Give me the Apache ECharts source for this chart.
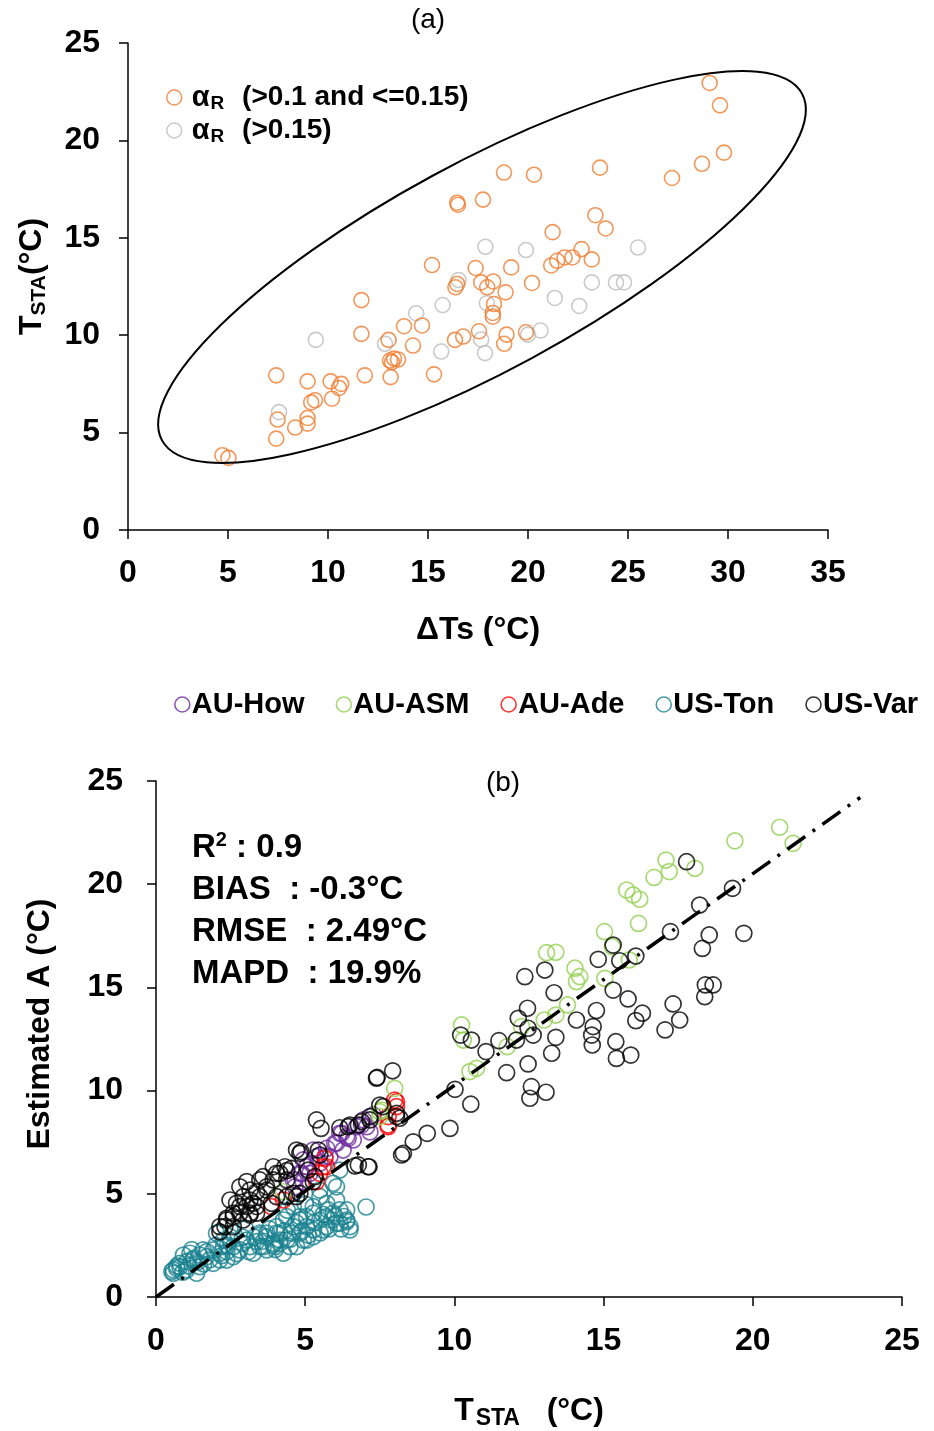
<!DOCTYPE html>
<html>
<head>
<meta charset="utf-8">
<script src="https://cdn.jsdelivr.net/npm/echarts@6/dist/echarts.min.js"></script>
<style>html,body{margin:0;padding:0;background:#fff}#c{width:934px;height:1431px}</style>
</head>
<body>
<div id="c"></div>
<script>
// ---------- Panel (a) data: [ΔTs, TSTA] ----------
const aMidAlbedo = [
  [29.08,22.95],[29.6,21.8],[29.8,19.37],[28.7,18.8],[27.2,18.07],[23.6,18.6],[18.8,18.35],[20.3,18.24],
  [16.46,16.8],[16.5,16.7],[17.75,16.96],[23.37,16.16],[23.88,15.48],[21.23,15.29],
  [15.2,13.6],[17.38,13.45],[19.16,13.48],[21.16,13.58],[21.46,13.82],[21.83,13.99],[22.22,13.99],[22.68,14.42],[23.19,13.89],
  [16.37,12.46],[16.46,12.63],[17.66,12.71],[18.26,12.76],[17.96,12.46],[18.88,12.2],[20.2,12.68],
  [11.67,11.8],[18.3,11.6],[18.24,11.14],[18.24,10.95],
  [13.8,10.46],[14.7,10.5],[11.67,10.07],[13.03,9.76],[14.25,9.47],
  [13.1,8.7],[13.3,8.8],[13.5,8.75],[13.2,8.62],
  [16.35,9.76],[16.76,9.93],[17.55,10.2],[18.93,10.03],[18.81,9.56],[19.9,10.15],
  [7.41,7.94],[8.98,7.63],[10.13,7.63],[10.66,7.5],[10.55,7.29],[11.84,7.94],[13.13,7.85],[15.3,7.99],
  [9.35,6.66],[9.16,6.55],[10.2,6.74],[8.98,5.75],[8.98,5.46],[7.48,5.67],[8.36,5.26],[7.41,4.69],
  [4.72,3.84],[5.02,3.7]
];
const aHighAlbedo = [
  [17.87,14.54],[19.9,14.37],[25.5,14.5],[16.53,12.83],[23.19,12.71],[24.4,12.71],[24.8,12.71],
  [15.73,11.55],[14.41,11.13],[17.94,11.64],[21.34,11.91],[22.56,11.5],[20.0,10.03],[20.63,10.24],
  [9.39,9.76],[12.85,9.56],[15.66,9.16],[17.66,9.78],[17.85,9.08],[7.55,6.05]
];
// ellipse annotation: major-axis end points and one minor-axis end point (data units)
const ellipseMajorEnds = [[1.7,4.6],[33.7,22.4]];
const ellipseMinorEnd = [20.2,8.83];

// ---------- Panel (b) data: [TSTA, Estimated A] ----------
const auHow = [
  [4.6,5.67],[4.66,5.34],[4.66,5.67],[4.82,5.99],[4.88,5.99],[4.93,5.59],[4.93,6.64],[5.05,6.31],[5.16,5.99],[5.22,6.48],
  [5.27,7.12],[5.38,6.8],[5.49,6.48],[5.66,6.8],[5.72,7.2],[5.83,6.8],[5.99,7.45],[6.05,7.45],[6.16,7.93],[6.22,7.93],
  [6.27,7.12],[6.39,7.77],[6.44,7.69],[6.61,7.61],[6.72,8.25],[6.89,8.33],[6.95,8.58],[7.06,8.25],[7.17,8.0],[7.28,8.82]
];
const auAsm = [
  [4.27,5.1],[7.5,8.74],[7.5,8.98],[7.56,9.06],[8.0,10.11],[10.24,13.18],[10.3,12.45],[10.52,10.92],[10.74,11.08],
  [11.77,12.13],[12.25,13.1],[13.01,13.42],[13.09,16.68],[13.4,16.7],[13.4,13.66],[13.79,14.15],[14.04,15.93],
  [14.09,15.28],[14.2,15.52],[15.03,17.7],[15.04,15.44],[15.29,16.97],[15.77,19.72],[15.86,16.33],[15.99,19.48],
  [16.17,18.1],[16.21,19.27],[16.69,20.33],[17.09,21.17],[17.2,20.61],[18.06,20.77],[19.4,22.1],[20.9,22.76],[21.35,21.98]
];
const auAde = [
  [3.87,4.38],[4.27,4.7],[5.38,5.59],[5.49,5.99],[5.6,6.31],[5.66,6.72],[5.72,6.31],
  [7.78,8.25],[7.78,8.33],[7.78,8.74],[8.0,9.54],[8.06,9.22],[8.06,9.46]
];
const usTon = [
  [0.53,1.23],[0.58,1.31],[0.58,1.15],[0.69,1.39],[0.8,1.47],[0.8,1.63],[0.92,2.03],[1.03,1.71],[1.03,1.31],[1.14,2.12],
  [1.25,1.87],[1.25,1.79],[1.36,1.15],[1.47,2.03],[1.47,1.47],[1.58,2.28],[1.7,2.2],[1.7,1.95],[1.92,2.28],[1.92,1.63],
  [2.03,3.09],[2.14,1.79],[2.14,2.12],[2.26,2.76],[2.26,2.44],[2.37,2.2],[2.37,1.79],[2.48,2.92],[2.48,2.76],[2.59,2.44],
  [2.59,1.95],[2.81,2.28],[2.92,2.6],[3.04,2.76],[3.15,2.44],[3.26,2.12],[3.37,2.68],[3.48,3.0],[3.48,2.44],[3.48,3.09],
  [3.59,2.44],[3.71,2.92],[3.71,2.28],[3.71,3.09],[3.93,2.52],[3.93,2.6],[3.99,2.44],[4.04,3.09],[4.04,3.41],[4.15,2.6],
  [4.15,3.09],[4.15,2.76],[4.27,3.73],[4.27,2.12],[4.38,2.76],[4.38,3.89],[4.49,2.44],[4.54,3.09],[4.6,3.41],[4.6,4.38],
  [4.71,2.44],[4.82,3.09],[4.82,3.73],[4.82,3.89],[4.93,2.76],[5.05,3.41],[5.05,3.89],[5.05,2.76],[5.27,4.06],[5.27,3.25],
  [5.27,2.92],[5.27,4.38],[5.49,3.73],[5.49,4.86],[5.49,5.18],[5.6,3.25],[5.72,3.41],[5.72,4.54],[5.72,3.89],[5.77,4.22],
  [5.89,3.73],[5.94,4.06],[5.94,5.51],[6.05,3.57],[6.05,4.7],[6.05,5.34],[6.16,4.22],[6.16,3.57],[6.16,6.15],[6.39,3.65],
  [6.39,3.73],[6.39,4.22],[6.5,3.41],[6.5,3.25],[7.04,4.36],
  [0.7,1.5],[0.9,1.2],[1.1,1.5],[1.2,2.3],[1.4,1.7],[1.6,1.6],[1.8,1.8],[2.0,2.5],[2.2,2.0],[2.4,2.5],
  [2.7,2.1],[2.9,2.9],[3.1,2.2],[3.3,2.9],[3.6,2.7],[3.8,3.3],[4.0,2.3],[4.3,3.2],[4.5,2.8],[4.7,3.6],
  [4.9,3.2],[5.1,3.0],[5.3,3.6],[5.5,3.1],[5.6,4.0],[5.8,3.3],[6.0,3.9],[6.2,3.3],[6.3,3.9],[3.0,3.3],
  [2.6,3.1],[4.4,4.2],[5.0,4.5]
];
const usVar = [
  [2.14,3.16],[2.14,3.41],[2.31,3.41],[2.37,3.73],[2.37,3.81],[2.48,4.7],[2.59,3.41],[2.59,3.89],[2.59,4.06],[2.7,4.54],
  [2.81,4.06],[2.81,4.38],[2.81,5.34],[2.92,4.86],[2.92,3.73],[3.04,4.38],[3.04,5.59],[3.15,3.97],[3.15,4.7],[3.15,5.18],
  [3.15,4.06],[3.26,4.54],[3.37,4.06],[3.37,4.38],[3.37,5.1],[3.48,4.86],[3.48,5.67],[3.59,5.83],[3.71,5.18],[3.71,5.34],
  [3.87,4.54],[3.93,5.67],[3.93,6.31],[4.04,4.86],[4.04,5.99],[4.15,5.99],[4.32,6.31],[4.38,4.86],[4.38,5.67],[4.38,6.12],
  [4.54,6.23],[4.6,5.02],[4.71,4.86],[4.71,7.12],[4.82,5.02],[4.82,6.96],[4.86,7.04],[5.1,6.15],[5.27,5.59],[5.33,5.83],
  [5.38,8.58],[5.44,7.12],[5.49,6.88],[5.53,8.17],[6.16,8.2],[6.44,8.25],[6.5,8.33],[6.67,6.35],[6.78,8.33],[6.78,6.4],
  [6.89,8.5],[7.11,6.31],[7.14,6.31],[7.17,8.74],[7.17,8.58],[7.39,10.6],[7.41,10.64],[7.5,9.3],[7.61,9.22],[7.93,10.96],
  [8.06,8.9],[8.06,8.74],[8.17,8.66],[8.23,6.88],[8.29,6.96],[8.62,7.52],[9.09,7.93],[9.85,8.17],
  [10.02,10.06],[10.21,12.69],[10.55,9.34],[10.57,12.45],[11.06,11.89],[11.49,12.42],[11.75,10.87],[12.08,12.45],
  [12.14,13.5],[12.36,15.52],[12.45,13.99],[12.47,13.02],[12.47,11.29],[12.53,9.63],[12.58,10.19],[12.64,12.69],
  [13.03,15.84],[13.07,9.92],[13.26,11.81],[13.34,14.74],[13.4,12.58],[14.09,13.42],[14.6,12.69],[14.62,12.21],
  [14.65,13.1],[14.76,13.88],[14.82,16.36],[15.32,17.05],[15.32,14.87],[15.41,12.37],[15.43,11.56],[15.54,16.29],
  [15.82,14.44],[15.91,11.72],[16.08,16.52],[16.08,13.39],[16.3,13.75],[17.06,12.94],[17.24,17.7],[17.33,14.2],
  [17.55,13.42],[17.78,21.09],[18.22,18.99],[18.31,16.89],[18.39,14.55],[18.41,15.12],[18.54,17.54],[18.67,15.12],
  [19.32,19.8],[19.7,17.62]
];
const fitLine = [[0,0],[23.6,24.2]];

// ---------- labels ----------
const legendA = ['αR (>0.1 and <=0.15)', 'αR (>0.15)'];
const legendB = ['AU-How','AU-ASM','AU-Ade','US-Ton','US-Var'];
const statsLines = ['R2 : 0.9','BIAS  : -0.3°C','RMSE  : 2.49°C','MAPD  : 19.9%'];

const colA = ['#ED7D31', '#BDBDBD'];
const colB = {'AU-How':'#7030A0','AU-ASM':'#92D050','AU-Ade':'#FF0000','US-Ton':'#1A8290','US-Var':'#000000'};

const FONT = '"Liberation Sans", Arial, sans-serif';
const chart = echarts.init(document.getElementById('c'), null, {renderer:'canvas'});

function axisCommon(min, max, labelMargin) {
  return {
    type:'value', min:min, max:max, interval:5,
    splitLine:{show:false},
    axisLine:{show:true, onZero:false, lineStyle:{color:'#000', width:1.5}},
    axisTick:{show:true, inside:false, length:9, lineStyle:{color:'#000', width:1.5}},
    axisLabel:{color:'#000', fontFamily:FONT, fontWeight:'bold', fontSize:32, margin:labelMargin}
  };
}
const richName = {
  b:{fontFamily:FONT, fontWeight:'bold', fontSize:32, color:'#000'},
  s:{fontFamily:FONT, fontWeight:'bold', fontSize:21, color:'#000', padding:[14,0,0,0]}
};
const richNameB = {
  b:{fontFamily:FONT, fontWeight:'bold', fontSize:32, color:'#000'},
  s:{fontFamily:FONT, fontWeight:'bold', fontSize:23, color:'#000', padding:[14,0,0,2]}
};

function hollow(color, w){ return {color:'rgba(0,0,0,0)', borderColor:color, borderWidth:w}; }

const option = {
  animation:false,
  backgroundColor:'#fff',
  grid:[
    {left:128, top:43, width:700, height:487},
    {left:156, top:781, width:746, height:516}
  ],
  xAxis:[
    Object.assign(axisCommon(0,35,27), {gridIndex:0, name:'{b|ΔTs (°C)}', nameLocation:'middle', nameGap:84, nameTextStyle:{rich:richName}}),
    Object.assign(axisCommon(0,25,28), {gridIndex:1, name:'{b|T}{s|STA}{b|   (°C)}', nameLocation:'middle', nameGap:96, nameTextStyle:{rich:richNameB}})
  ],
  yAxis:[
    Object.assign(axisCommon(0,25,28), {gridIndex:0, name:'{b|T}{s|STA}{b|(°C)}', nameLocation:'middle', nameGap:78, nameTextStyle:{rich:richName, padding:[0,0,0,20]}}),
    Object.assign(axisCommon(0,25,33), {gridIndex:1, name:'{b|Estimated A (°C)}', nameLocation:'middle', nameGap:100, nameTextStyle:{rich:richName, padding:[0,0,0,30]}})
  ],
  legend:[
    {
      data: legendA.map((n,i)=>({name:n, itemStyle:hollow(colA[i],1.5)})),
      orient:'vertical', left:161, top:78, itemGap:3, itemWidth:15, itemHeight:15, icon:'circle',
      formatter: n => n.replace('αR', '{a|α}{s|R}'),
      textStyle:{fontFamily:FONT, fontWeight:'bold', fontSize:28, color:'#000', padding:[0,0,0,5],
        rich:{a:{fontFamily:FONT, fontWeight:'bold', fontSize:29, color:'#000'},
              s:{fontFamily:FONT, fontWeight:'bold', fontSize:19, color:'#000', padding:[12,10,0,1]}}}
    },
    {
      data: legendB.map(n=>({name:n, itemStyle:hollow(colB[n],1.6)})),
      orient:'horizontal', left:174, top:690, padding:0, width:760, itemGap:31, itemWidth:15, itemHeight:15, icon:'circle',
      textStyle:{fontFamily:FONT, fontWeight:'bold', fontSize:29, color:'#000', padding:[0,0,0,-3]}
    }
  ],
  graphic:[
    {type:'text', x:428, y:20, style:{text:'(a)', fontFamily:FONT, fontSize:28, fill:'#000', align:'center', verticalAlign:'middle'}},
    {type:'text', x:503, y:783, style:{text:'(b)', fontFamily:FONT, fontSize:28, fill:'#000', align:'center', verticalAlign:'middle'}},
    {type:'text', x:192, y:827, style:{
      text: statsLines.map((l,i)=> i===0 ? '{t|R}{p|2}{t|' + l.slice(2) + '}' : '{t|' + l + '}').join('\n'),
      fontFamily:FONT, fontWeight:'bold', fontSize:33, fill:'#000', lineHeight:42,
      rich:{t:{fontFamily:FONT, fontWeight:'bold', fontSize:33, fill:'#000', lineHeight:42},
            p:{fontFamily:FONT, fontWeight:'bold', fontSize:20, fill:'#000', lineHeight:42, padding:[0,0,15,0]}}
    }}
  ],
  series:[
    {name:legendA[0], type:'scatter', xAxisIndex:0, yAxisIndex:0, data:aMidAlbedo, symbol:'circle', symbolSize:15, itemStyle:hollow(colA[0],1.6), z:3},
    {name:legendA[1], type:'scatter', xAxisIndex:0, yAxisIndex:0, data:aHighAlbedo, symbol:'circle', symbolSize:15, itemStyle:hollow(colA[1],1.6), z:2},
    {type:'custom', xAxisIndex:0, yAxisIndex:0, data:[[0]], silent:true, z:4,
      renderItem:function(params, api){
        const p1 = api.coord(ellipseMajorEnds[0]);
        const p2 = api.coord(ellipseMajorEnds[1]);
        const pm = api.coord(ellipseMinorEnd);
        const cx = (p1[0]+p2[0])/2, cy = (p1[1]+p2[1])/2;
        const rx = Math.hypot(p2[0]-p1[0], p2[1]-p1[1])/2;
        const ry = Math.hypot(pm[0]-cx, pm[1]-cy);
        const ang = Math.atan2(p1[1]-p2[1], p2[0]-p1[0]);
        return {type:'ellipse', x:cx, y:cy, rotation:ang, shape:{cx:0, cy:0, rx:rx, ry:ry},
                style:{fill:null, stroke:'#000', lineWidth:2}};
      }},
    {name:'US-Ton', type:'scatter', xAxisIndex:1, yAxisIndex:1, data:usTon, symbol:'circle', symbolSize:16, itemStyle:hollow(colB['US-Ton'],1.7), z:2},
    {name:'AU-How', type:'scatter', xAxisIndex:1, yAxisIndex:1, data:auHow, symbol:'circle', symbolSize:16, itemStyle:hollow(colB['AU-How'],1.7), z:2},
    {name:'AU-Ade', type:'scatter', xAxisIndex:1, yAxisIndex:1, data:auAde, symbol:'circle', symbolSize:16, itemStyle:hollow(colB['AU-Ade'],1.7), z:2},
    {name:'AU-ASM', type:'scatter', xAxisIndex:1, yAxisIndex:1, data:auAsm, symbol:'circle', symbolSize:16, itemStyle:hollow(colB['AU-ASM'],1.7), z:2},
    {name:'US-Var', type:'scatter', xAxisIndex:1, yAxisIndex:1, data:usVar, symbol:'circle', symbolSize:16, itemStyle:hollow(colB['US-Var'],1.7), z:2},
    {type:'line', xAxisIndex:1, yAxisIndex:1, data:fitLine, symbol:'none', silent:true, z:5,
      lineStyle:{color:'#000', width:3.5, type:[22,9,3,9]}}
  ]
};
chart.setOption(option);
</script>
</body>
</html>
